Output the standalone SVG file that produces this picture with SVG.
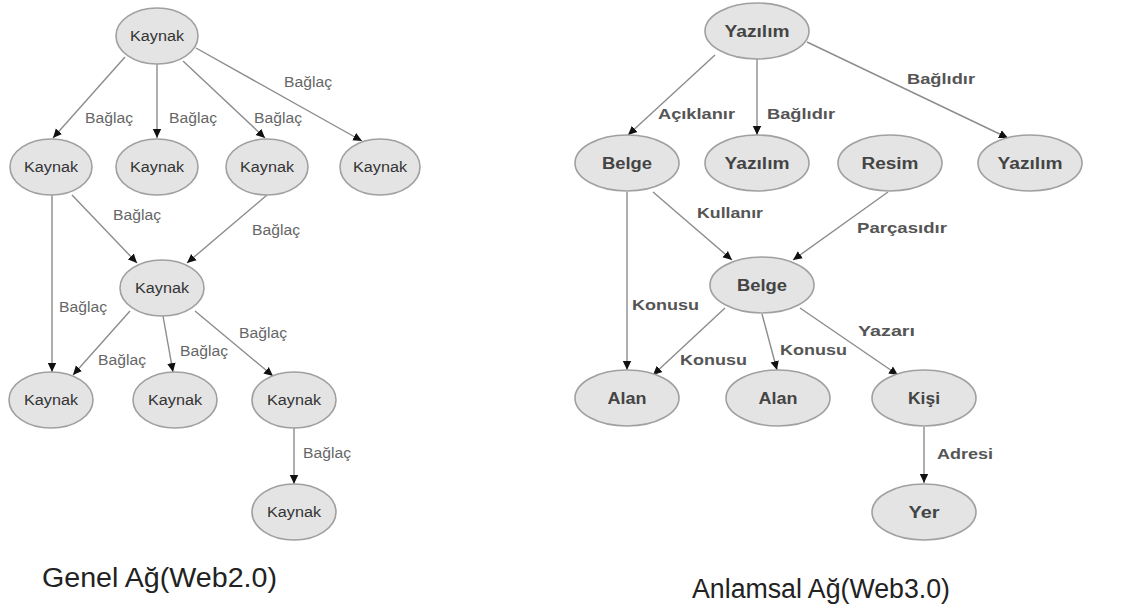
<svg xmlns="http://www.w3.org/2000/svg" width="1125" height="610" viewBox="0 0 1125 610">
  <style>
    .node ellipse { fill: #e4e4e4; stroke: #a0a0a0; stroke-width: 1.6; }
    .kn { font-family: "Liberation Sans", Arial, sans-serif; font-size: 14px; fill: #333; text-anchor: middle; }
    .sn { font-family: "Liberation Sans", Arial, sans-serif; font-size: 16px; font-weight: bold; fill: #444; text-anchor: middle; }
    .edges line { stroke: #8c8c8c; stroke-width: 1.4; marker-end: url(#arrow); }
    .kl { font-family: "Liberation Sans", Arial, sans-serif; font-size: 14px; fill: #666; }
    .sl { font-family: "Liberation Sans", Arial, sans-serif; font-size: 15px; font-weight: bold; fill: #555; }
    .cap { font-family: "Liberation Sans", Arial, sans-serif; font-size: 27px; fill: #222; }
  </style>
  <defs>
    <marker id="arrow" markerWidth="10" markerHeight="10" refX="9" refY="5" orient="auto" markerUnits="userSpaceOnUse">
      <path d="M0,0.8 L9,5 L0,9.2 Z" fill="#111"/>
    </marker>
  </defs>
  <rect width="1125" height="610" fill="#fff"/>

  <!-- Genel Ağ (Web2.0) connectors -->
  <g class="edges" id="web2-edges">
    <line x1="125" y1="57" x2="53" y2="138"/>
    <line x1="157" y1="64" x2="157" y2="138"/>
    <line x1="183" y1="61" x2="265" y2="138"/>
    <line x1="196" y1="48" x2="362" y2="141"/>
    <line x1="52" y1="195" x2="52" y2="372"/>
    <line x1="72" y1="195" x2="137" y2="263"/>
    <line x1="267" y1="195" x2="187" y2="263"/>
    <line x1="130" y1="311" x2="73" y2="375"/>
    <line x1="163" y1="316" x2="173" y2="372"/>
    <line x1="195" y1="311" x2="273" y2="376"/>
    <line x1="294" y1="428" x2="294" y2="484"/>
  </g>
  <g id="web2-edge-labels">
    <text class="kl" x="85" y="123" textLength="48" lengthAdjust="spacingAndGlyphs">Bağlaç</text>
    <text class="kl" x="169" y="123" textLength="48" lengthAdjust="spacingAndGlyphs">Bağlaç</text>
    <text class="kl" x="254" y="123" textLength="48" lengthAdjust="spacingAndGlyphs">Bağlaç</text>
    <text class="kl" x="284" y="87" textLength="48" lengthAdjust="spacingAndGlyphs">Bağlaç</text>
    <text class="kl" x="59" y="312" textLength="48" lengthAdjust="spacingAndGlyphs">Bağlaç</text>
    <text class="kl" x="113" y="220" textLength="48" lengthAdjust="spacingAndGlyphs">Bağlaç</text>
    <text class="kl" x="252" y="235" textLength="48" lengthAdjust="spacingAndGlyphs">Bağlaç</text>
    <text class="kl" x="98" y="365" textLength="48" lengthAdjust="spacingAndGlyphs">Bağlaç</text>
    <text class="kl" x="180" y="356" textLength="48" lengthAdjust="spacingAndGlyphs">Bağlaç</text>
    <text class="kl" x="239" y="338" textLength="48" lengthAdjust="spacingAndGlyphs">Bağlaç</text>
    <text class="kl" x="303" y="458" textLength="48" lengthAdjust="spacingAndGlyphs">Bağlaç</text>
  </g>

  <!-- Genel Ağ (Web2.0) nodes -->
  <g class="node" id="k-top"><ellipse cx="157" cy="36" rx="41" ry="28"/><text class="kn" x="157" y="41" textLength="54" lengthAdjust="spacingAndGlyphs">Kaynak</text></g>
  <g class="node" id="k-r2-1"><ellipse cx="51" cy="167" rx="41" ry="28"/><text class="kn" x="51" y="172" textLength="54" lengthAdjust="spacingAndGlyphs">Kaynak</text></g>
  <g class="node" id="k-r2-2"><ellipse cx="157" cy="167" rx="41" ry="28"/><text class="kn" x="157" y="172" textLength="54" lengthAdjust="spacingAndGlyphs">Kaynak</text></g>
  <g class="node" id="k-r2-3"><ellipse cx="267" cy="167" rx="41" ry="28"/><text class="kn" x="267" y="172" textLength="54" lengthAdjust="spacingAndGlyphs">Kaynak</text></g>
  <g class="node" id="k-r2-4"><ellipse cx="380" cy="167" rx="40" ry="28"/><text class="kn" x="380" y="172" textLength="54" lengthAdjust="spacingAndGlyphs">Kaynak</text></g>
  <g class="node" id="k-mid"><ellipse cx="162" cy="288" rx="42" ry="28"/><text class="kn" x="162" y="293" textLength="54" lengthAdjust="spacingAndGlyphs">Kaynak</text></g>
  <g class="node" id="k-r3-1"><ellipse cx="51" cy="400" rx="42" ry="28"/><text class="kn" x="51" y="405" textLength="54" lengthAdjust="spacingAndGlyphs">Kaynak</text></g>
  <g class="node" id="k-r3-2"><ellipse cx="175" cy="400" rx="42" ry="28"/><text class="kn" x="175" y="405" textLength="54" lengthAdjust="spacingAndGlyphs">Kaynak</text></g>
  <g class="node" id="k-r3-3"><ellipse cx="294" cy="400" rx="42" ry="28"/><text class="kn" x="294" y="405" textLength="54" lengthAdjust="spacingAndGlyphs">Kaynak</text></g>
  <g class="node" id="k-bottom"><ellipse cx="294" cy="512" rx="42" ry="28"/><text class="kn" x="294" y="517" textLength="54" lengthAdjust="spacingAndGlyphs">Kaynak</text></g>

  <text class="cap" x="42" y="587" textLength="235" lengthAdjust="spacingAndGlyphs">Genel Ağ(Web2.0)</text>

  <!-- Anlamsal Ağ (Web3.0) connectors -->
  <g class="edges" id="web3-edges">
    <line x1="715" y1="55" x2="628" y2="135"/>
    <line x1="757" y1="59" x2="757" y2="135"/>
    <line x1="807" y1="42" x2="1008" y2="138"/>
    <line x1="627" y1="192" x2="627" y2="370"/>
    <line x1="653" y1="192" x2="732" y2="260"/>
    <line x1="888" y1="192" x2="793" y2="260"/>
    <line x1="725" y1="308" x2="653" y2="375"/>
    <line x1="762" y1="314" x2="777" y2="370"/>
    <line x1="800" y1="308" x2="898" y2="375"/>
    <line x1="924" y1="427" x2="924" y2="483"/>
  </g>
  <g id="web3-edge-labels">
    <text class="sl" x="658" y="119" textLength="77" lengthAdjust="spacingAndGlyphs">Açıklanır</text>
    <text class="sl" x="767" y="119" textLength="68" lengthAdjust="spacingAndGlyphs">Bağlıdır</text>
    <text class="sl" x="907" y="84" textLength="68" lengthAdjust="spacingAndGlyphs">Bağlıdır</text>
    <text class="sl" x="632" y="310" textLength="67" lengthAdjust="spacingAndGlyphs">Konusu</text>
    <text class="sl" x="697" y="218" textLength="66" lengthAdjust="spacingAndGlyphs">Kullanır</text>
    <text class="sl" x="857" y="233" textLength="90" lengthAdjust="spacingAndGlyphs">Parçasıdır</text>
    <text class="sl" x="680" y="365" textLength="67" lengthAdjust="spacingAndGlyphs">Konusu</text>
    <text class="sl" x="780" y="355" textLength="67" lengthAdjust="spacingAndGlyphs">Konusu</text>
    <text class="sl" x="858" y="336" textLength="57" lengthAdjust="spacingAndGlyphs">Yazarı</text>
    <text class="sl" x="937" y="459" textLength="56" lengthAdjust="spacingAndGlyphs">Adresi</text>
  </g>

  <!-- Anlamsal Ağ (Web3.0) nodes -->
  <g class="node" id="s-yazilim-top"><ellipse cx="757" cy="31" rx="52" ry="28"/><text class="sn" x="757" y="37" textLength="65" lengthAdjust="spacingAndGlyphs">Yazılım</text></g>
  <g class="node" id="s-belge-1"><ellipse cx="627" cy="163" rx="52" ry="28"/><text class="sn" x="627" y="169" textLength="50" lengthAdjust="spacingAndGlyphs">Belge</text></g>
  <g class="node" id="s-yazilim-2"><ellipse cx="757" cy="163" rx="52" ry="28"/><text class="sn" x="757" y="169" textLength="65" lengthAdjust="spacingAndGlyphs">Yazılım</text></g>
  <g class="node" id="s-resim"><ellipse cx="890" cy="163" rx="52" ry="28"/><text class="sn" x="890" y="169" textLength="57" lengthAdjust="spacingAndGlyphs">Resim</text></g>
  <g class="node" id="s-yazilim-3"><ellipse cx="1030" cy="163" rx="52" ry="28"/><text class="sn" x="1030" y="169" textLength="65" lengthAdjust="spacingAndGlyphs">Yazılım</text></g>
  <g class="node" id="s-belge-2"><ellipse cx="762" cy="285" rx="52" ry="28"/><text class="sn" x="762" y="291" textLength="50" lengthAdjust="spacingAndGlyphs">Belge</text></g>
  <g class="node" id="s-alan-1"><ellipse cx="627" cy="398" rx="52" ry="28"/><text class="sn" x="627" y="404" textLength="39" lengthAdjust="spacingAndGlyphs">Alan</text></g>
  <g class="node" id="s-alan-2"><ellipse cx="778" cy="398" rx="52" ry="28"/><text class="sn" x="778" y="404" textLength="39" lengthAdjust="spacingAndGlyphs">Alan</text></g>
  <g class="node" id="s-kisi"><ellipse cx="924" cy="398" rx="52" ry="28"/><text class="sn" x="924" y="404" textLength="32" lengthAdjust="spacingAndGlyphs">Kişi</text></g>
  <g class="node" id="s-yer"><ellipse cx="924" cy="512" rx="52" ry="28"/><text class="sn" x="924" y="518" textLength="31" lengthAdjust="spacingAndGlyphs">Yer</text></g>

  <text class="cap" x="692" y="598" textLength="258" lengthAdjust="spacingAndGlyphs">Anlamsal Ağ(Web3.0)</text>
</svg>
